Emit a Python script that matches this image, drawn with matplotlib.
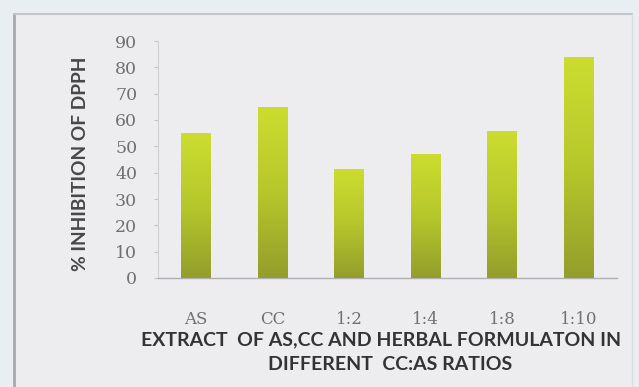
import numpy as np
import matplotlib
matplotlib.use("Agg")
import matplotlib.pyplot as plt
from matplotlib.colors import LinearSegmentedColormap
from matplotlib.lines import Line2D

categories = ["AS", "CC", "1:2", "1:4", "1:8", "1:10"]
inhibition = [55, 65, 41.5, 47, 56, 84]
y_ticks = [0, 10, 20, 30, 40, 50, 60, 70, 80, 90]

W, H = 639, 387
fig = plt.figure(figsize=(W / 100, H / 100), dpi=100)
fig.patch.set_facecolor("#e9eef2")

# inner panel and its frame
panel = plt.Rectangle((14 / W, 0), (632 - 14) / W, 1 - 14 / H,
                      transform=fig.transFigure, facecolor="#ededf0",
                      edgecolor="none", zorder=-5)
fig.patches.append(panel)
fig.lines.append(Line2D([14 / W, 14 / W], [0, 1 - 14 / H], transform=fig.transFigure,
                        color="#a9a9ad", lw=2.0, zorder=-4))
fig.lines.append(Line2D([14 / W, 632 / W], [1 - 14 / H, 1 - 14 / H], transform=fig.transFigure,
                        color="#c4c4c8", lw=1.5, zorder=-4))
fig.lines.append(Line2D([632 / W, 632 / W], [0, 1 - 14 / H], transform=fig.transFigure,
                        color="#dcdce0", lw=1.0, zorder=-4))

left, right = 158 / W, 617 / W
bottom, top = 1 - 278 / H, 1 - 41 / H
ax = fig.add_axes([left, bottom, right - left, top - bottom])
ax.set_zorder(2)
ax.set_facecolor("none")

x = np.arange(len(categories))
bars = ax.bar(x, inhibition, width=0.39, color="none", edgecolor="none", zorder=2)

cmap = LinearSegmentedColormap.from_list("lime", ["#939e2b", "#b6c72c", "#ccdd30"])
grad = np.linspace(0, 1, 256).reshape(-1, 1)
for b in bars:
    x0, w, h = b.get_x(), b.get_width(), b.get_height()
    im = ax.imshow(grad, cmap=cmap, aspect="auto", origin="lower",
                   extent=(x0, x0 + w, 0, h), zorder=3, interpolation="bilinear")
    im.set_clip_path(b)

ax.set_xlim(-0.5, len(categories) - 0.5)
ax.set_ylim(0, 90)
ax.set_yticks(y_ticks)
ax.set_yticklabels([str(t) for t in y_ticks], fontfamily="DejaVu Serif",
                   fontsize=12.5, color="#707070")
ax.set_xticks(x)
ax.set_xticklabels(categories, fontfamily="DejaVu Serif", fontsize=12, color="#707070")
ax.tick_params(axis="y", length=3, width=0.8, color="#c4c4c4", pad=12)
ax.tick_params(axis="x", length=0, pad=24)

for s in ("top", "right"):
    ax.spines[s].set_visible(False)
ax.spines["left"].set_color("#cfcfcf")
ax.spines["bottom"].set_color("#b0b0b4")
ax.spines["bottom"].set_linewidth(1.0)

ax.set_ylabel("% INHIBITION OF DPPH", fontfamily="Lato", fontweight="bold",
              fontsize=13.8, color="#484848", labelpad=14)
ax.yaxis.set_label_coords(-0.15, 0.48)
fig.text(381 / W, 1 - 340 / H, "EXTRACT  OF AS,CC AND HERBAL FORMULATON IN",
         ha="center", va="center", fontfamily="Lato", fontweight="bold",
         fontsize=14, color="#333333")
fig.text(390 / W, 1 - 365 / H, "DIFFERENT  CC:AS RATIOS",
         ha="center", va="center", fontfamily="Lato", fontweight="bold",
         fontsize=14, color="#333333")

fig.savefig("out.png", dpi=100, facecolor=fig.get_facecolor())
